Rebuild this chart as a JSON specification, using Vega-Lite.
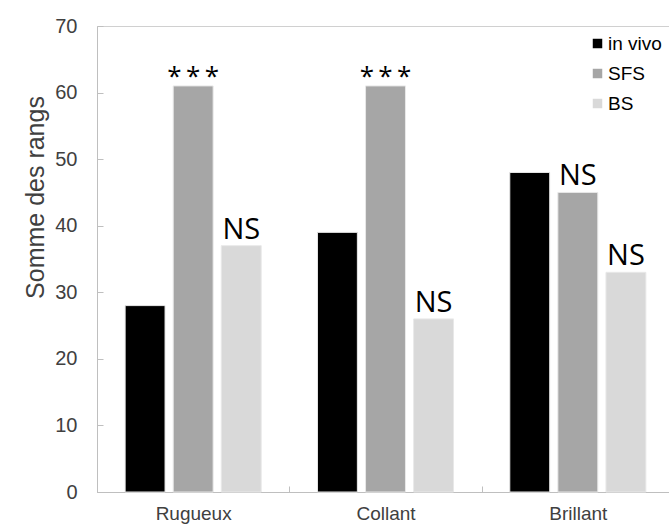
{
  "$schema": "https://vega.github.io/schema/vega-lite/v6.json",
  "autosize": {"type": "none"},
  "width": 577,
  "height": 466,
  "padding": {"left": 97, "top": 26, "right": 0, "bottom": 34},
  "background": "white",
  "config": {"view": {"stroke": "#d0d0d0", "strokeWidth": 1}},
  "data": {"values": [
    {"attribut": "Rugueux", "serie": "in vivo", "rang": 28, "sig": ""},
    {"attribut": "Rugueux", "serie": "SFS", "rang": 61, "sig": "*\u2009*\u2009*"},
    {"attribut": "Rugueux", "serie": "BS", "rang": 37, "sig": "NS"},
    {"attribut": "Collant", "serie": "in vivo", "rang": 39, "sig": ""},
    {"attribut": "Collant", "serie": "SFS", "rang": 61, "sig": "*\u2009*\u2009*"},
    {"attribut": "Collant", "serie": "BS", "rang": 26, "sig": "NS"},
    {"attribut": "Brillant", "serie": "in vivo", "rang": 48, "sig": ""},
    {"attribut": "Brillant", "serie": "SFS", "rang": 45, "sig": "NS"},
    {"attribut": "Brillant", "serie": "BS", "rang": 33, "sig": "NS"}
  ]},
  "encoding": {
    "x": {
      "field": "attribut", "type": "nominal", "sort": ["Rugueux", "Collant", "Brillant"],
      "scale": {"paddingInner": 0, "paddingOuter": 0},
      "axis": {"title": null, "labelAngle": 0, "labelFont": "Liberation Sans", "labelFontSize": 19, "labelColor": "#404040", "labelPadding": 18, "domainColor": "#bfbfbf", "tickColor": "#bfbfbf", "tickBand": "extent", "tickSize": -6}
    },
    "xOffset": {
      "field": "serie", "type": "nominal", "sort": ["in vivo", "SFS", "BS"],
      "scale": {"paddingInner": 0.17, "paddingOuter": 0.585}
    },
    "y": {
      "field": "rang", "type": "quantitative",
      "scale": {"domain": [0, 70], "nice": false},
      "axis": {"title": "Somme des rangs", "titleFont": "Liberation Sans", "titleFontSize": 25, "titleFontWeight": "normal", "titleColor": "#404040", "titlePadding": 6, "titleY": 171, "labelFont": "Liberation Sans", "labelFontSize": 20, "labelColor": "#404040", "values": [0,10,20,30,40,50,60,70], "grid": false, "domainColor": "#bfbfbf", "tickColor": "#bfbfbf", "tickSize": -6, "labelPadding": 26}
    }
  },
  "layer": [
    {
      "mark": {"type": "bar", "stroke": "#e8e8e8", "strokeWidth": 1},
      "encoding": {
        "color": {
          "field": "serie", "type": "nominal", "sort": ["in vivo", "SFS", "BS"],
          "scale": {"domain": ["in vivo", "SFS", "BS"], "range": ["#000000", "#a6a6a6", "#d9d9d9"]},
          "legend": {"title": null, "orient": "none", "legendX": 491, "legendY": 8, "symbolType": "square", "symbolSize": 90, "symbolStrokeWidth": 0, "labelFont": "Liberation Sans", "labelFontSize": 19, "labelColor": "#000000", "rowPadding": 10, "labelOffset": 1}
        }
      }
    },
    {
      "transform": [{"filter": "datum.sig == 'NS'"}],
      "mark": {"type": "text", "baseline": "alphabetic", "dy": -7, "font": "Open Sans", "fontSize": 29, "color": "#000000"},
      "encoding": {"text": {"field": "sig"}}
    },
    {
      "transform": [{"filter": "datum.sig != 'NS' && datum.sig != ''"}],
      "mark": {"type": "text", "baseline": "alphabetic", "dy": -1, "font": "Open Sans", "fontSize": 26, "color": "#000000"},
      "encoding": {"text": {"field": "sig"}}
    }
  ]
}
